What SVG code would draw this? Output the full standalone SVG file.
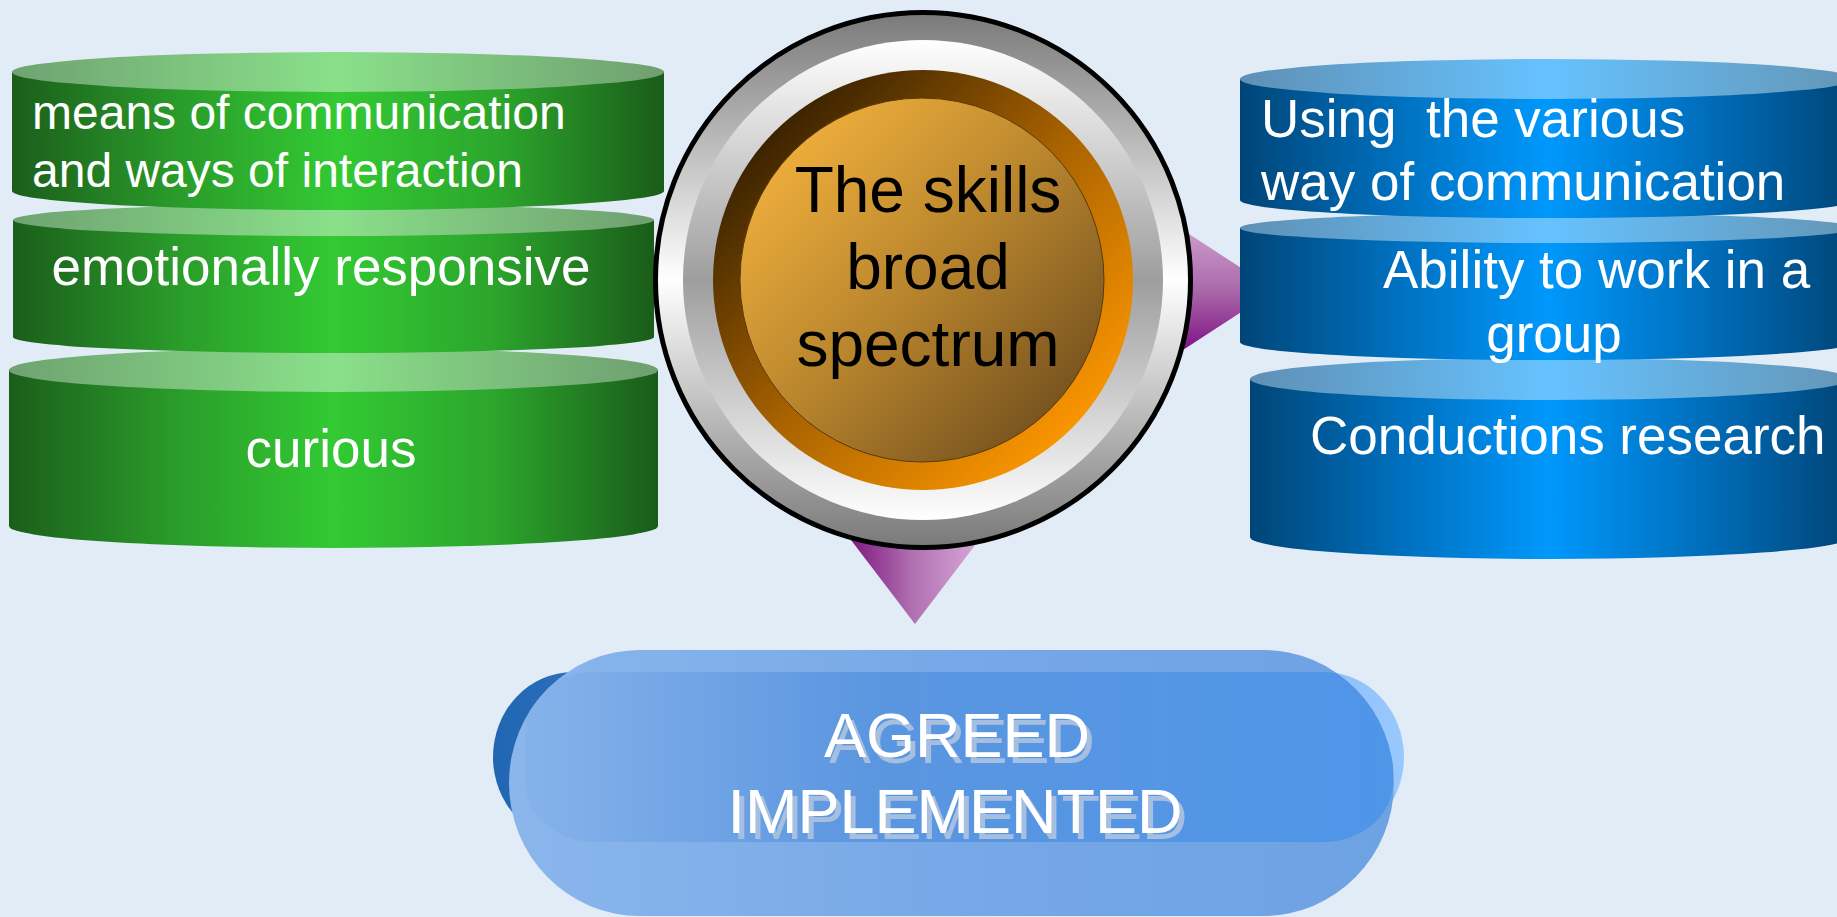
<svg xmlns="http://www.w3.org/2000/svg" width="1837" height="917" viewBox="0 0 1837 917">
<defs>
<style>
.wt{font-family:"Liberation Sans",Arial,sans-serif;fill:#ffffff}
.bt{font-family:"Liberation Sans",Arial,sans-serif;fill:#000000}
</style>
<filter id="tsh" x="-10%" y="-20%" width="130%" height="150%">
<feOffset in="SourceAlpha" dx="5" dy="6" result="off"/>
<feFlood flood-color="#a6bfe0"/>
<feComposite in2="off" operator="in" result="shadow"/>
<feMerge><feMergeNode in="shadow"/><feMergeNode in="SourceGraphic"/></feMerge>
</filter>
<linearGradient id="gSide" x1="0" y1="0" x2="1" y2="0">
<stop offset="0" stop-color="#1b5e1b"/><stop offset="0.25" stop-color="#2a9a2a"/><stop offset="0.5" stop-color="#33ca33"/><stop offset="0.75" stop-color="#2ca52c"/><stop offset="1" stop-color="#1a5c1a"/>
</linearGradient>
<linearGradient id="gTop" x1="0" y1="0" x2="1" y2="0">
<stop offset="0" stop-color="#6fa371"/><stop offset="0.5" stop-color="#8ae08a"/><stop offset="1" stop-color="#6f9f70"/>
</linearGradient>
<linearGradient id="bSide" x1="0" y1="0" x2="1" y2="0">
<stop offset="0" stop-color="#004577"/><stop offset="0.25" stop-color="#006fbd"/><stop offset="0.5" stop-color="#0098fc"/><stop offset="0.75" stop-color="#006fbd"/><stop offset="1" stop-color="#004577"/>
</linearGradient>
<linearGradient id="bTop" x1="0" y1="0" x2="1" y2="0">
<stop offset="0" stop-color="#5f90b5"/><stop offset="0.5" stop-color="#66c2ff"/><stop offset="1" stop-color="#6496b6"/>
</linearGradient>
<linearGradient id="ringOuter" x1="0" y1="0" x2="0" y2="1">
<stop offset="0" stop-color="#7a7a7a"/><stop offset="0.5" stop-color="#ffffff"/><stop offset="1" stop-color="#7a7a7a"/>
</linearGradient>
<linearGradient id="ringInner" x1="0" y1="0" x2="0" y2="1">
<stop offset="0" stop-color="#ffffff"/><stop offset="0.5" stop-color="#9e9e9e"/><stop offset="1" stop-color="#ffffff"/>
</linearGradient>
<linearGradient id="brown" x1="0.15" y1="0.15" x2="0.85" y2="0.85">
<stop offset="0" stop-color="#3d2400"/><stop offset="0.5" stop-color="#a86200"/><stop offset="1" stop-color="#f89400"/>
</linearGradient>
<linearGradient id="disc" x1="0.15" y1="0.15" x2="0.85" y2="0.85">
<stop offset="0" stop-color="#ebab3b"/><stop offset="0.5" stop-color="#b8852d"/><stop offset="1" stop-color="#7a5520"/>
</linearGradient>
<linearGradient id="triR" gradientUnits="userSpaceOnUse" x1="0" y1="232" x2="0" y2="347">
<stop offset="0" stop-color="#cb9bcb"/><stop offset="0.5" stop-color="#aa6aaa"/><stop offset="1" stop-color="#821888"/>
</linearGradient>
<linearGradient id="triB" gradientUnits="userSpaceOnUse" x1="850" y1="0" x2="975" y2="0">
<stop offset="0" stop-color="#7d1a80"/><stop offset="0.5" stop-color="#b070b0"/><stop offset="1" stop-color="#d6a4d6"/>
</linearGradient>
<linearGradient id="pillBack" x1="0" y1="0" x2="1" y2="0">
<stop offset="0" stop-color="#2166b3"/><stop offset="0.5" stop-color="#5e9ae0"/><stop offset="1" stop-color="#99c8fe"/>
</linearGradient>
<linearGradient id="pillFront" x1="0" y1="0" x2="1" y2="0">
<stop offset="0" stop-color="#8bb6ec"/><stop offset="0.5" stop-color="#77a8e7"/><stop offset="1" stop-color="#6da2e3"/>
</linearGradient>
<linearGradient id="pillBand" x1="0" y1="0" x2="1" y2="0">
<stop offset="0" stop-color="#86b2ea"/><stop offset="0.4" stop-color="#5b96e0"/><stop offset="1" stop-color="#4f95e8"/>
</linearGradient>
<clipPath id="pillClip"><rect x="509" y="650" width="885" height="266" rx="131" ry="133"/></clipPath>
</defs>
<rect width="1837" height="917" fill="#e2ecf7"/>
<g id="connectors">
<polygon points="1100,176 1100,404 1275,290" fill="url(#triR)"/>
<polygon points="790,460 1040,460 915,624" fill="url(#triB)"/>
</g>
<g id="node-curious">
<path d="M9,370 L9,526 A324.5,22 0 0 0 658,526 L658,370 Z" fill="url(#gSide)"/>
<ellipse cx="333.5" cy="370" rx="324.5" ry="22" fill="url(#gTop)"/>
<text class="wt" x="331" y="467" font-size="53" text-anchor="middle">curious</text>
</g>
<g id="node-emotionally">
<path d="M13,220 L13,337 A320.5,16 0 0 0 654,337 L654,220 Z" fill="url(#gSide)"/>
<ellipse cx="333.5" cy="220" rx="320.5" ry="16" fill="url(#gTop)"/>
<text class="wt" x="321" y="285" font-size="53" text-anchor="middle">emotionally responsive</text>
</g>
<g id="node-means">
<path d="M12,72 L12,191 A326,19 0 0 0 664,191 L664,72 Z" fill="url(#gSide)"/>
<ellipse cx="338" cy="72" rx="326" ry="20" fill="url(#gTop)"/>
<text class="wt" x="32" y="129" font-size="48">means of communication</text>
<text class="wt" x="32" y="187" font-size="48">and ways of interaction</text>
</g>
<g id="node-research">
<path d="M1250,379 L1250,537 A300,22 0 0 0 1850,537 L1850,379 Z" fill="url(#bSide)"/>
<ellipse cx="1550" cy="379" rx="300" ry="21" fill="url(#bTop)"/>
<text class="wt" x="1310" y="454" font-size="53">Conductions research</text>
</g>
<g id="node-group">
<path d="M1240,228 L1240,342 A307,18 0 0 0 1854,342 L1854,228 Z" fill="url(#bSide)"/>
<ellipse cx="1547" cy="228" rx="307" ry="15" fill="url(#bTop)"/>
<text class="wt" x="1383" y="288" font-size="53">Ability to work in a</text>
<text class="wt" x="1554" y="352" font-size="53" text-anchor="middle">group</text>
</g>
<g id="node-using">
<path d="M1240,79 L1240,200 A307,18 0 0 0 1854,200 L1854,79 Z" fill="url(#bSide)"/>
<ellipse cx="1547" cy="79" rx="307" ry="20" fill="url(#bTop)"/>
<text class="wt" x="1261" y="137" font-size="53" xml:space="preserve">Using  the various</text>
<text class="wt" x="1261" y="200" font-size="53">way of communication</text>
</g>
<g id="node-center">
<circle cx="923" cy="280" r="266" fill="url(#ringOuter)"/>
<circle cx="923" cy="280" r="240" fill="url(#ringInner)"/>
<circle cx="923" cy="280" r="210" fill="url(#brown)"/>
<circle cx="922" cy="280" r="182" fill="url(#disc)" stroke="#5a3a08" stroke-width="1"/>
<circle cx="923" cy="280" r="267.5" fill="none" stroke="#000000" stroke-width="5"/>
<text class="bt" x="928" y="212" font-size="64" text-anchor="middle">The skills</text>
<text class="bt" x="928" y="289" font-size="64" text-anchor="middle">broad</text>
<text class="bt" x="928" y="366" font-size="64" text-anchor="middle">spectrum</text>
</g>
<g id="node-agreed">
<rect x="493" y="672" width="911" height="170" rx="80" ry="85" fill="url(#pillBack)"/>
<rect x="509" y="650" width="885" height="266" rx="131" ry="133" fill="url(#pillFront)"/>
<rect x="525" y="672" width="868" height="170" rx="70" ry="60" fill="url(#pillBand)" clip-path="url(#pillClip)"/>
<text class="wt" x="957" y="757" font-size="63" text-anchor="middle" filter="url(#tsh)">AGREED</text>
<text class="wt" x="955" y="833" font-size="63" text-anchor="middle" filter="url(#tsh)">IMPLEMENTED</text>
</g>
</svg>
